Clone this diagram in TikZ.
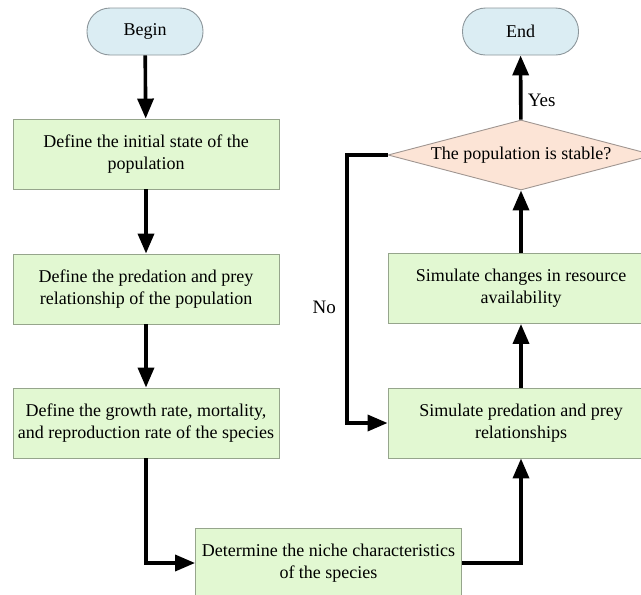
\documentclass[tikz,border=0pt]{standalone}
\usepackage{fontspec}
\setmainfont{Liberation Serif}
\usetikzlibrary{arrows.meta, shapes.geometric}

\definecolor{stagefill}{RGB}{226,248,210}
\definecolor{stageline}{RGB}{150,165,140}
\definecolor{termfill}{RGB}{219,237,243}
\definecolor{termline}{RGB}{140,150,155}
\definecolor{testfill}{RGB}{252,228,214}
\definecolor{testline}{RGB}{160,150,145}

\tikzset{
  stage/.style={draw=stageline, fill=stagefill, line width=0.9pt, align=center,
    minimum width=266pt, minimum height=70pt, inner sep=2pt,
    font=\fontsize{18}{22}\selectfont},
  terminal/.style={draw=termline, fill=termfill, line width=0.9pt,
    rounded corners=23pt, minimum width=116pt, minimum height=47pt,
    font=\fontsize{18}{22}\selectfont},
  decision/.style={diamond, aspect=3.8, draw=testline, fill=testfill, line width=0.9pt,
    minimum width=266pt, minimum height=70pt, inner sep=0pt,
    font=\fontsize{18}{22}\selectfont},
  flow/.style={line width=3.6pt, -{Triangle[length=20pt,width=16pt]}},
  answer/.style={font=\fontsize{19}{22}\selectfont}
}

\begin{document}
\begin{tikzpicture}[x=1pt, y=-1pt]
  \useasboundingbox (0,0) rectangle (641,595);
  % terminals
  \node[terminal] (begin) at (145,31.5) {Begin};
  \node[terminal] (finish) at (520.5,31.5) {End};
  % left column
  \node[stage] (init) at (146,154) {Define the initial state of the\\population};
  \node[stage] (prey) at (146,289) {Define the predation and prey\\relationship of the population};
  \node[stage] (growth) at (146,423) {Define the growth rate, mortality,\\and reproduction rate of the species};
  \node[stage] (niche) at (328.5,563) {Determine the niche characteristics\\of the species};
  % right column
  \node[stage] (simprey) at (521,423) {Simulate predation and prey\\relationships};
  \node[stage] (resource) at (521,288.5) {Simulate changes in resource\\availability};
  \node[decision] (stable) at (521,155) {The population is stable?};
  \coordinate (noturn) at (347,155);
  % connectors
  \draw[flow] (begin) -- (init);
  \draw[flow] (init) -- (prey);
  \draw[flow] (prey) -- (growth);
  \draw[flow] (growth) |- (niche);
  \draw[flow] (niche) -| (simprey);
  \draw[flow] (simprey) -- (resource);
  \draw[flow] (resource) -- (stable);
  \draw[flow] (stable) -- node[answer, pos=0.3, right=2pt] {Yes} (finish);
  \draw[flow] (stable.west) -- (noturn) |- node[answer, pos=0.285, left=6pt] {No} (simprey);
\end{tikzpicture}
\end{document}
